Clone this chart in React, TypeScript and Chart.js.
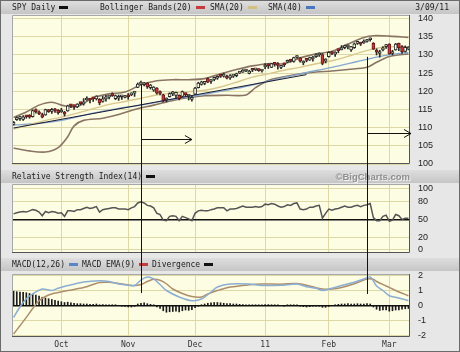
import React, { useEffect, useRef } from "react";
import { Chart, registerables } from "chart.js";
Chart.register(...registerables);

// ---------- trading days (Sep 10 2010 - Mar 9 2011) ----------
const sepDays = [10, 13, 14, 15, 16, 17, 20, 21, 22, 23, 24, 27, 28, 29, 30];
const octDays = [1, 4, 5, 6, 7, 8, 11, 12, 13, 14, 15, 18, 19, 20, 21, 22, 25, 26, 27, 28, 29];
const novDays = [1, 2, 3, 4, 5, 8, 9, 10, 11, 12, 15, 16, 17, 18, 19, 22, 23, 24, 26, 29, 30];
const decDays = [1, 2, 3, 6, 7, 8, 9, 10, 13, 14, 15, 16, 17, 20, 21, 22, 23, 27, 28, 29, 30, 31];
const janDays = [3, 4, 5, 6, 7, 10, 11, 12, 13, 14, 18, 19, 20, 21, 24, 25, 26, 27, 28, 31];
const febDays = [1, 2, 3, 4, 7, 8, 9, 10, 11, 14, 15, 16, 17, 18, 22, 23, 24, 25, 28];
const marDays = [1, 2, 3, 4, 7, 8, 9];

const dates: string[] = [
  ...sepDays.map((d) => `9/${d}`),
  ...octDays.map((d) => `10/${d}`),
  ...novDays.map((d) => `11/${d}`),
  ...decDays.map((d) => `12/${d}`),
  ...janDays.map((d) => `1/${d}`),
  ...febDays.map((d) => `2/${d}`),
  ...marDays.map((d) => `3/${d}`),
];

const monthTickDates = ["10/1", "11/1", "12/1", "1/3", "2/1", "3/1"];
const monthTickLabels = ["Oct", "Nov", "Dec", "11", "Feb", "Mar"];
const monthTickIdx = monthTickDates.map((d) => dates.indexOf(d));

// ---------- SPY daily OHLC ----------
const opens = [
  110.9, 112.2, 112.5, 112.3, 113.1, 113.3, 113.0, 114.7, 114.3, 113.6, 113.5, 114.9, 114.5, 114.8, 114.8,
  114.3, 114.3, 114.6, 116.1, 116.0, 115.7, 116.8, 116.5, 117.6, 118.0, 118.3, 117.9, 117.8, 117.2, 117.9, 118.4, 118.9, 118.0, 118.1, 118.5, 118.3,
  119.0, 119.0, 119.5, 121.1, 122.0, 121.8, 122.3, 121.0, 120.3, 120.9, 119.7, 119.0, 117.6, 118.5, 119.3, 118.9, 118.9, 118.6, 119.2, 118.7, 117.8,
  119.2, 121.0, 121.9, 122.2, 123.5, 122.7, 123.3, 123.6, 124.5, 124.2, 124.0, 123.7, 124.2, 124.3, 125.0, 125.3, 125.6, 124.9, 125.9, 125.9, 125.8, 125.6,
  126.7, 127.3, 126.6, 127.7, 127.5, 126.6, 127.5, 128.0, 128.6, 128.2, 129.3, 129.2, 127.8, 128.6, 128.6, 128.9, 129.5, 130.0, 130.1, 128.3,
  129.5, 130.5, 130.2, 131.3, 131.4, 132.0, 132.2, 131.4, 132.0, 133.2, 133.1, 133.3, 133.7, 134.2, 133.2, 131.3, 130.4, 131.4, 132.3,
  133.0, 130.4, 131.4, 133.2, 132.3, 131.0, 131.6,
];
const highs = [
  111.7, 113.0, 113.2, 113.3, 113.4, 113.6, 114.9, 115.2, 114.6, 114.0, 115.1, 115.0, 115.3, 115.3, 115.0,
  115.3, 114.5, 116.2, 116.4, 116.2, 116.6, 117.0, 118.0, 118.5, 118.1, 118.4, 118.8, 118.0, 118.6, 118.9, 118.6, 119.6, 119.0, 119.0, 118.9, 118.9,
  119.4, 119.6, 120.0, 122.3, 122.8, 122.5, 122.4, 121.9, 121.3, 121.0, 120.1, 119.2, 118.2, 119.6, 120.0, 119.8, 119.0, 120.1, 119.5, 119.0, 118.9,
  121.1, 122.5, 122.8, 122.7, 123.7, 123.2, 123.8, 124.2, 124.6, 125.0, 124.5, 124.6, 124.4, 125.0, 125.5, 126.0, 125.8, 125.8, 126.1, 126.3, 126.2, 126.0,
  127.6, 127.6, 127.7, 127.8, 127.9, 127.1, 127.8, 128.6, 128.8, 129.4, 129.8, 129.3, 128.4, 129.0, 129.4, 129.6, 130.3, 130.6, 130.4, 129.0,
  130.9, 130.9, 130.9, 131.4, 132.6, 132.7, 132.8, 132.4, 133.3, 133.6, 133.5, 134.2, 134.3, 134.7, 133.4, 131.7, 131.3, 132.3, 132.9,
  133.1, 131.3, 133.2, 133.3, 132.6, 132.5, 132.3,
];
const lows = [
  110.7, 112.0, 112.0, 112.0, 112.6, 112.6, 112.9, 114.0, 113.6, 112.7, 113.4, 114.2, 113.9, 114.2, 113.7,
  114.2, 113.2, 114.5, 115.5, 115.0, 115.5, 116.3, 116.2, 117.5, 116.8, 117.2, 117.6, 116.3, 117.0, 117.3, 117.9, 118.6, 117.7, 117.5, 117.8, 118.2,
  117.8, 118.8, 118.6, 121.0, 121.8, 121.5, 120.8, 120.6, 120.0, 119.2, 119.0, 117.1, 117.1, 118.4, 118.8, 118.2, 117.6, 118.5, 118.6, 117.6, 117.3,
  119.1, 120.9, 121.7, 121.8, 122.4, 122.2, 122.9, 123.3, 123.8, 123.9, 123.4, 123.3, 123.8, 124.0, 124.9, 125.2, 125.4, 124.8, 125.4, 125.7, 125.5, 125.3,
  126.2, 126.3, 126.5, 126.9, 126.1, 126.2, 126.8, 127.9, 128.0, 128.0, 129.1, 128.0, 127.3, 128.1, 128.5, 128.3, 129.3, 129.6, 127.3, 127.8,
  129.4, 130.1, 129.6, 130.6, 131.4, 131.7, 131.7, 131.0, 131.8, 132.9, 132.6, 133.2, 133.5, 133.8, 131.5, 130.0, 129.4, 131.1, 131.8,
  130.2, 130.0, 131.3, 131.2, 130.4, 130.8, 131.4,
];
const closes = [
  111.5, 112.7, 112.6, 113.0, 113.0, 112.9, 114.7, 114.4, 113.8, 112.9, 115.0, 114.4, 114.9, 114.6, 114.1,
  114.6, 113.7, 116.0, 116.0, 115.8, 116.5, 116.6, 117.1, 118.0, 117.6, 117.9, 118.7, 116.8, 117.9, 118.1, 118.4, 118.8, 118.8, 118.5, 118.6, 118.5,
  118.5, 119.3, 119.8, 122.0, 122.5, 122.2, 121.2, 121.7, 121.2, 119.5, 119.4, 117.5, 117.6, 119.4, 119.8, 119.7, 118.0, 119.9, 119.1, 118.9, 118.2,
  120.9, 122.3, 122.6, 122.5, 122.5, 123.0, 123.4, 124.1, 124.1, 124.2, 123.6, 124.3, 124.3, 124.6, 125.3, 125.8, 125.6, 125.6, 125.8, 125.9, 125.7, 125.8,
  127.1, 127.0, 127.6, 127.4, 127.1, 126.9, 127.3, 128.5, 128.3, 129.3, 129.5, 128.3, 128.2, 128.5, 129.3, 129.4, 129.9, 130.0, 127.7, 128.7,
  130.7, 130.4, 130.8, 131.2, 132.0, 132.6, 132.2, 132.3, 133.1, 133.4, 133.0, 133.6, 134.0, 134.4, 131.6, 130.8, 130.7, 132.0, 132.5,
  130.3, 130.6, 133.0, 132.0, 130.9, 132.1, 132.0,
];

// ---------- overlays: [day index, value] ----------
const bbUpper = [
  [0, 112.8], [4, 114.3], [8, 116.2], [12, 117.0], [16, 116.0], [20, 115.8], [25, 118.2], [30, 119.3], [35, 119.8],
  [40, 121.8], [45, 122.9], [50, 123.2], [55, 123.2], [60, 123.5], [65, 124.8], [70, 126.0], [75, 127.0], [80, 127.6],
  [85, 127.6], [90, 129.2], [95, 130.3], [100, 131.0], [105, 133.0], [110, 134.8], [113, 135.3], [118, 135.2], [124, 134.8],
];
const bbLower = [
  [0, 104.4], [5, 103.6], [10, 103.3], [14, 104.5], [17, 107.5], [19, 110.5], [22, 112.0], [28, 112.6], [33, 113.6],
  [38, 115.0], [44, 116.2], [49, 117.3], [55, 118.3], [60, 118.8], [67, 118.9], [73, 119.0], [76, 121.0], [80, 123.0],
  [85, 124.0], [90, 124.8], [95, 125.3], [100, 125.6], [105, 126.0], [111, 126.6], [114, 128.0], [118, 129.6], [124, 130.3],
];
const sma20 = [
  [0, 109.6], [5, 110.8], [10, 112.0], [15, 112.9], [20, 114.0], [25, 115.2], [30, 116.4], [35, 117.2], [40, 118.1],
  [45, 119.0], [50, 119.5], [55, 119.9], [60, 120.3], [65, 121.2], [70, 122.5], [75, 123.9], [80, 124.8], [85, 125.8],
  [90, 126.6], [95, 127.6], [100, 128.4], [105, 129.6], [110, 131.0], [115, 132.0], [120, 132.3], [124, 132.3],
];
const sma40 = [
  [0, 110.7], [8, 111.2], [15, 112.0], [25, 114.0], [33, 115.3], [40, 116.2], [50, 117.8], [60, 119.2], [70, 120.8],
  [80, 122.8], [90, 124.8], [100, 126.6], [108, 128.2], [114, 129.4], [120, 130.3], [124, 130.7],
];
const trendLine = [[0, 109.9], [92, 124.6]];

// ---------- RSI(14) ----------
const rsi = [
  59, 61, 62, 63, 62, 64, 66, 65, 62, 56,
  63, 61, 63, 62, 60, 61, 55, 64, 64, 63,
  66, 66, 68, 70, 68, 69, 71, 62, 66, 67,
  68, 69, 69, 67, 67, 67, 66, 69, 71, 77,
  79, 77, 73, 72, 69, 60, 58, 49, 48, 55,
  56, 55, 48, 55, 53, 51, 48, 60, 64, 65,
  64, 64, 66, 67, 69, 69, 69, 64, 67, 67,
  68, 70, 72, 70, 70, 70, 71, 70, 71, 75,
  74, 76, 75, 72, 70, 71, 74, 73, 76, 77,
  67, 66, 67, 70, 70, 72, 73, 52, 60, 67,
  65, 67, 68, 70, 72, 70, 70, 72, 73, 71,
  73, 74, 76, 53, 48, 48, 55, 57, 47, 49,
  58, 56, 50, 52, 52,
];

// ---------- MACD ----------
const macdLine = [
  [0, -0.8], [2, -0.1], [4, 0.45], [6, 0.77], [9, 1.1], [12, 1.0], [14, 1.15], [17, 1.33], [22, 1.57], [27, 1.65],
  [30, 1.6], [33, 1.43], [36, 1.35], [38, 1.33], [40, 1.7], [42, 1.9], [44, 1.77], [46, 1.4], [48, 1.0], [52, 0.57],
  [56, 0.32], [59, 0.43], [62, 0.9], [64, 1.23], [68, 1.43], [74, 1.43], [78, 1.33], [84, 1.35], [89, 1.43], [92, 1.25],
  [95, 1.15], [97, 1.0], [100, 1.15], [103, 1.33], [107, 1.55], [110, 1.77], [112, 1.9], [114, 1.3], [116, 1.0],
  [118, 0.65], [121, 0.5], [124, 0.32],
];
const macdSignal = [
  [0, -1.9], [2, -1.35], [4, -0.79], [6, -0.2], [8, 0.32], [10, 0.6], [12, 0.77], [17, 1.0], [22, 1.2], [27, 1.53],
  [30, 1.55], [33, 1.47], [38, 1.33], [40, 1.4], [42, 1.6], [44, 1.75], [46, 1.68], [48, 1.45], [50, 1.1], [53, 0.8],
  [56, 0.6], [59, 0.57], [61, 0.77], [64, 1.0], [68, 1.23], [74, 1.38], [78, 1.43], [84, 1.42], [89, 1.47], [93, 1.3],
  [97, 1.1], [100, 1.1], [103, 1.2], [107, 1.45], [111, 1.77], [113, 1.75], [114, 1.6], [117, 1.3], [120, 1.0], [124, 0.65],
];
const divergence = [
  0.95, 0.92, 0.9, 0.88, 0.85, 0.8,
  0.75, 0.7, 0.62, 0.55, 0.5, 0.45,
  0.4, 0.35, 0.3, 0.25, 0.2, 0.22,
  0.18, 0.15, 0.12, 0.12, 0.1, 0.1,
  0.08, 0.08, 0.1, 0.05, 0.06, 0.05,
  0.04, 0.03, 0.02, 0.0, -0.04, -0.06,
  -0.1, -0.1, -0.06, 0.1, 0.15, 0.18,
  0.12, 0.08, 0.02, -0.1, -0.2, -0.35,
  -0.45, -0.42, -0.4, -0.38, -0.42, -0.35,
  -0.3, -0.32, -0.28, -0.15, -0.05, 0.05,
  0.1, 0.15, 0.18, 0.2, 0.2, 0.18,
  0.15, 0.12, 0.12, 0.1, 0.1, 0.08,
  0.06, 0.05, 0.04, 0.03, 0.03, 0.02,
  0.05, 0.06, 0.06, 0.05, 0.04, 0.02,
  0.0, -0.02, 0.02, 0.03, 0.05, 0.04,
  -0.04, -0.08, -0.1, -0.08, -0.05, -0.03,
  -0.02, -0.12, -0.12, -0.06, 0.0, 0.05,
  0.08, 0.1, 0.1, 0.12, 0.1, 0.1,
  0.12, 0.1, 0.1, 0.12, 0.1, -0.1,
  -0.25, -0.33, -0.3, -0.3, -0.38, -0.35,
  -0.3, -0.3, -0.25, -0.22, -0.2,
];

// ---------- axis ticks ----------
const priceTicks = [100, 105, 110, 115, 120, 125, 130, 135, 140];
const rsiTicks = [0, 20, 50, 80, 100];
const macdTicks = [-2, -1, 0, 1, 2];

// ---------- hand-drawn annotations (date, price start, macd end, arrow level, arrow end date) ----------
const annotations = [
  { date: "11/5", priceFrom: 121.8, macdTo: 0.83, arrowPrice: 106.9, arrowTo: "11/30" },
  { date: "2/17", priceFrom: 129.5, macdTo: 0.77, arrowPrice: 108.4, arrowTo: null as string | null },
];

// ---------- styles ----------
const GRID = "#ddd9a6";
const PLOT_BG = "#fdfde3";
const MONO = '"DejaVu Sans Mono", monospace';
const SANS = '"Liberation Sans", Arial, sans-serif';

const pts = (arr: number[][]) => arr.map(([i, v]) => ({ x: dates[i], y: v }));

function makeX(showLabels: boolean) {
  return {
    type: "category",
    offset: true,
    grid: { offset: false, color: GRID, drawTicks: false, lineWidth: 1 },
    border: { display: false },
    ticks: {
      display: showLabels,
      autoSkip: false,
      maxRotation: 0,
      minRotation: 0,
      padding: 3,
      color: "#333",
      font: { family: MONO, size: 8 },
      callback: (_v: any, i: number) => monthTickLabels[i] ?? "",
    },
    afterBuildTicks: (s: any) => {
      s.ticks = monthTickIdx.map((v) => ({ value: v }));
    },
    afterFit: (s: any) => {
      s.height = showLabels ? 15 : 0;
      s.paddingLeft = 0;
      s.paddingRight = 0;
    },
  };
}

function makeY(min: number, max: number, tickVals: number[], special?: number) {
  const isSpecial = (c: any) => special !== undefined && c.tick && c.tick.value === special;
  return {
    type: "linear",
    position: "right",
    min,
    max,
    grid: {
      drawTicks: false,
      color: (c: any) => (isSpecial(c) ? "#111" : GRID),
      lineWidth: (c: any) => (isSpecial(c) ? 1.5 : 1),
    },
    border: { display: false },
    ticks: {
      padding: 8,
      color: "#222",
      font: { family: SANS, size: 9 },
      callback: (v: any) => String(v),
    },
    afterBuildTicks: (s: any) => {
      s.ticks = tickVals.map((v) => ({ value: v }));
    },
    afterFit: (s: any) => {
      s.width = 50;
      s.paddingTop = 0;
      s.paddingBottom = 0;
    },
  };
}

type HeaderItem = { text: string; x: number; swatch: string };

function panelPlugin(o: {
  headerTop: number;
  items: HeaderItem[];
  rightText?: string;
  copyright?: string;
  annotate: (chart: any, ctx: CanvasRenderingContext2D) => void;
}) {
  return {
    id: "panel",
    beforeDraw(chart: any) {
      const { ctx, chartArea: a, width } = chart;
      ctx.save();
      const g = ctx.createLinearGradient(0, o.headerTop, 0, o.headerTop + 13);
      g.addColorStop(0, "#dedede");
      g.addColorStop(1, "#c5c5c5");
      ctx.fillStyle = g;
      ctx.fillRect(1, o.headerTop, width - 2, 13);
      const cy = o.headerTop + 7;
      ctx.font = `8px ${MONO}`;
      ctx.textBaseline = "middle";
      ctx.textAlign = "left";
      for (const it of o.items) {
        ctx.fillStyle = "#1a1a1a";
        ctx.fillText(it.text, it.x, cy);
        const w = ctx.measureText(it.text).width;
        ctx.fillStyle = it.swatch;
        ctx.fillRect(Math.round(it.x + w + 4), cy - 2, 9, 3);
      }
      if (o.rightText) {
        ctx.fillStyle = "#1a1a1a";
        ctx.textAlign = "right";
        ctx.fillText(o.rightText, 449, cy);
      }
      if (o.copyright) {
        ctx.font = `bold 9.5px ${SANS}`;
        ctx.textAlign = "right";
        ctx.fillStyle = "#f4f4f4";
        ctx.fillText(o.copyright, a.right + 1, cy + 1);
        ctx.fillStyle = "#8e8e8e";
        ctx.fillText(o.copyright, a.right, cy);
      }
      ctx.fillStyle = PLOT_BG;
      ctx.fillRect(a.left, a.top, a.right - a.left, a.bottom - a.top);
      ctx.restore();
    },
    afterDraw(chart: any) {
      const { ctx, chartArea: a } = chart;
      ctx.save();
      ctx.lineWidth = 1;
      ctx.strokeStyle = "#a8a8a8";
      ctx.beginPath();
      ctx.moveTo(a.left + 0.5, a.bottom);
      ctx.lineTo(a.left + 0.5, a.top + 0.5);
      ctx.lineTo(a.right, a.top + 0.5);
      ctx.stroke();
      ctx.strokeStyle = "#555";
      ctx.beginPath();
      ctx.moveTo(a.right - 0.5, a.top);
      ctx.lineTo(a.right - 0.5, a.bottom - 0.5);
      ctx.lineTo(a.left, a.bottom - 0.5);
      ctx.stroke();
      ctx.strokeStyle = "#111";
      ctx.lineWidth = 1;
      o.annotate(chart, ctx);
      ctx.restore();
    },
  };
}

const annX = (chart: any, date: string) => Math.round(chart.scales.x.getPixelForValue(dates.indexOf(date))) + 0.5;

function line(ctx: CanvasRenderingContext2D, x1: number, y1: number, x2: number, y2: number) {
  ctx.beginPath();
  ctx.moveTo(x1, y1);
  ctx.lineTo(x2, y2);
  ctx.stroke();
}

function priceConfig() {
  const bodyColors = opens.map((op, i) => (closes[i] >= op ? "#fdfde3" : "#c83a3a"));
  const bodyBorders = opens.map((op, i) => (closes[i] >= op ? "#2a2a2a" : "#6a1818"));
  const lineDs = (data: any, color: string, width: number, order: number, tension = 0.3) => ({
    type: "line",
    data,
    borderColor: color,
    borderWidth: width,
    pointRadius: 0,
    tension,
    order,
  });
  return {
    type: "bar",
    data: {
      labels: dates,
      datasets: [
        lineDs(pts(bbUpper), "#8a7565", 1.6, 6),
        lineDs(pts(bbLower), "#8a7565", 1.6, 6),
        lineDs(pts(sma20), "#d8c88e", 1.4, 5),
        lineDs(pts(sma40), "#86a8d0", 1.4, 5),
        lineDs(pts(trendLine), "#1c1c34", 1, 4, 0),
        {
          type: "bar",
          data: lows.map((l, i) => [l, highs[i]]),
          backgroundColor: "#2a2a2a",
          barThickness: 1,
          grouped: false,
          order: 2,
        },
        {
          type: "bar",
          data: opens.map((op, i) => [op, closes[i]]),
          backgroundColor: bodyColors,
          borderColor: bodyBorders,
          borderWidth: 1,
          borderSkipped: false,
          barThickness: 3,
          minBarLength: 2,
          grouped: false,
          order: 1,
        },
      ],
    },
    options: {
      responsive: false,
      animation: false,
      events: [],
      layout: { padding: { left: 12, right: 0, top: 15, bottom: 4 } },
      plugins: { legend: { display: false }, tooltip: { enabled: false } },
      scales: { x: makeX(false), y: makeY(100, 141, priceTicks) },
    },
    plugins: [
      panelPlugin({
        headerTop: 1,
        items: [
          { text: "SPY Daily", x: 12, swatch: "#111" },
          { text: "Bollinger Bands(20)", x: 100, swatch: "#c43c3c" },
          { text: "SMA(20)", x: 210, swatch: "#d4bf80" },
          { text: "SMA(40)", x: 268, swatch: "#4a78c0" },
        ],
        rightText: "3/09/11",
        annotate: (chart, ctx) => {
          const ys = chart.scales.y;
          for (const an of annotations) {
            const px = annX(chart, an.date);
            line(ctx, px, ys.getPixelForValue(an.priceFrom), px, chart.height);
            const ay = Math.round(ys.getPixelForValue(an.arrowPrice)) + 0.5;
            const ex = an.arrowTo ? chart.scales.x.getPixelForValue(dates.indexOf(an.arrowTo)) : chart.chartArea.right + 1;
            line(ctx, px, ay, ex, ay);
            ctx.beginPath();
            ctx.moveTo(ex - 7, ay - 4);
            ctx.lineTo(ex, ay);
            ctx.lineTo(ex - 7, ay + 4);
            ctx.stroke();
          }
        },
      }),
    ],
  };
}

function rsiConfig() {
  return {
    type: "line",
    data: {
      labels: dates,
      datasets: [
        { data: rsi, borderColor: "#555", borderWidth: 1.5, pointRadius: 0, tension: 0 },
      ],
    },
    options: {
      responsive: false,
      animation: false,
      events: [],
      layout: { padding: { left: 12, right: 0, top: 16, bottom: 3 } },
      plugins: { legend: { display: false }, tooltip: { enabled: false } },
      scales: { x: makeX(false), y: makeY(-5, 108, rsiTicks, 50) },
    },
    plugins: [
      panelPlugin({
        headerTop: 2,
        items: [{ text: "Relative Strength Index(14)", x: 12, swatch: "#111" }],
        copyright: "©BigCharts.com",
        annotate: (chart, ctx) => {
          for (const an of annotations) {
            const px = annX(chart, an.date);
            line(ctx, px, 0, px, chart.height);
          }
        },
      }),
    ],
  };
}

function macdConfig() {
  return {
    type: "bar",
    data: {
      labels: dates,
      datasets: [
        { type: "line", data: pts(macdLine), borderColor: "#8aaed4", borderWidth: 1.5, pointRadius: 0, tension: 0.3, order: 1 },
        { type: "line", data: pts(macdSignal), borderColor: "#ad8e6c", borderWidth: 1.5, pointRadius: 0, tension: 0.3, order: 2 },
        { type: "bar", data: divergence, backgroundColor: "#1a1a1a", barThickness: 1, grouped: false, order: 3 },
      ],
    },
    options: {
      responsive: false,
      animation: false,
      events: [],
      layout: { padding: { left: 12, right: 0, top: 18, bottom: 0 } },
      plugins: { legend: { display: false }, tooltip: { enabled: false } },
      scales: { x: makeX(true), y: makeY(-2.1, 2.1, macdTicks, 0) },
    },
    plugins: [
      panelPlugin({
        headerTop: 2,
        items: [
          { text: "MACD(12,26)", x: 12, swatch: "#5a86c8" },
          { text: "MACD EMA(9)", x: 82, swatch: "#c43c3c" },
          { text: "Divergence", x: 152, swatch: "#111" },
        ],
        annotate: (chart, ctx) => {
          const ys = chart.scales.y;
          for (const an of annotations) {
            const px = annX(chart, an.date);
            line(ctx, px, 0, px, ys.getPixelForValue(an.macdTo));
          }
        },
      }),
    ],
  };
}

function Panel({ top, height, build }: { top: number; height: number; build: () => any }) {
  const ref = useRef<HTMLCanvasElement>(null);
  useEffect(() => {
    const chart = new Chart(ref.current as HTMLCanvasElement, build());
    return () => chart.destroy();
  }, []);
  return (
    <canvas
      ref={ref}
      width={460}
      height={height}
      style={{ position: "absolute", left: 0, top, width: 460, height, display: "block" }}
    />
  );
}

export default function App() {
  return (
    <div
      style={{
        position: "absolute",
        left: 0,
        top: 0,
        width: 460,
        height: 352,
        background: "#e7e7e7",
        overflow: "hidden",
      }}
    >
      <Panel top={0} height={168} build={priceConfig} />
      <Panel top={168} height={88} build={rsiConfig} />
      <Panel top={256} height={96} build={macdConfig} />
      <div
        style={{
          position: "absolute",
          left: 0,
          top: 0,
          width: 460,
          height: 352,
          boxSizing: "border-box",
          border: "1px solid #6a6a6a",
          pointerEvents: "none",
        }}
      />
    </div>
  );
}
